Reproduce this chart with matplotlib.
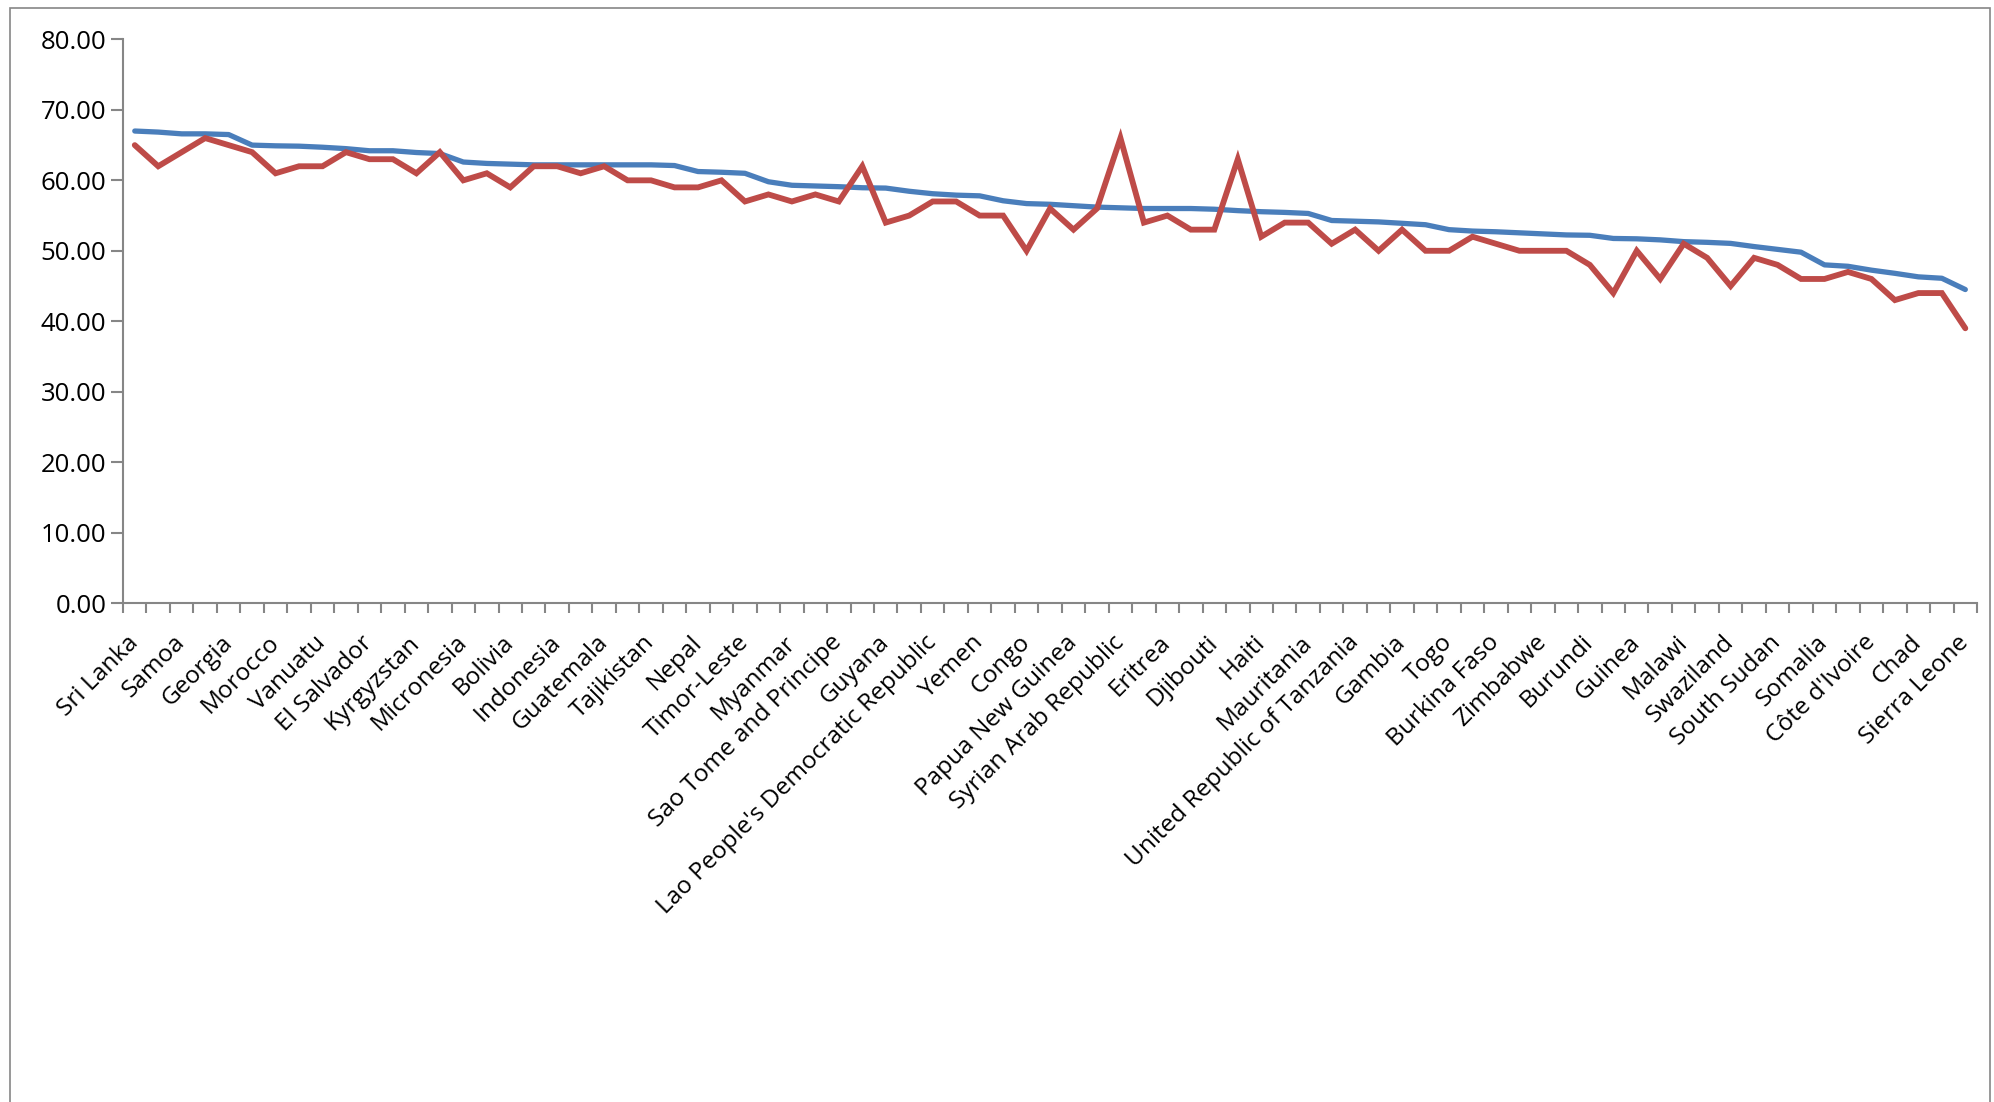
import matplotlib
matplotlib.use("Agg")
import matplotlib.pyplot as plt
import matplotlib.ticker as mticker
from matplotlib.patches import Rectangle

# label kategori (tiap dua titik)
labels = ["Sri Lanka", "Samoa", "Georgia", "Morocco", "Vanuatu", "El Salvador",
          "Kyrgyzstan", "Micronesia", "Bolivia", "Indonesia", "Guatemala",
          "Tajikistan", "Nepal", "Timor-Leste", "Myanmar", "Sao Tome and Principe",
          "Guyana", "Lao People's Democratic Republic", "Yemen", "Congo",
          "Papua New Guinea", "Syrian Arab Republic", "Eritrea", "Djibouti",
          "Haiti", "Mauritania", "United Republic of Tanzania", "Gambia", "Togo",
          "Burkina Faso", "Zimbabwe", "Burundi", "Guinea", "Malawi", "Swaziland",
          "South Sudan", "Somalia", "Côte d'Ivoire", "Chad", "Sierra Leone"]

# seri biru
blue = [67.0, 66.85, 66.6, 66.6, 66.5, 65.0, 64.9, 64.85, 64.7, 64.5,
        64.2, 64.2, 63.95, 63.8, 62.6, 62.4, 62.3, 62.2, 62.2, 62.2,
        62.2, 62.2, 62.2, 62.1, 61.25, 61.15, 61.0, 59.8, 59.3, 59.2,
        59.1, 58.95, 58.9, 58.45, 58.1, 57.9, 57.8, 57.1, 56.7, 56.6,
        56.4, 56.2, 56.1, 56.0, 56.0, 56.0, 55.9, 55.7, 55.55, 55.45,
        55.3, 54.3, 54.2, 54.1, 53.9, 53.7, 53.0, 52.8, 52.7, 52.55,
        52.4, 52.25, 52.2, 51.75, 51.7, 51.55, 51.3, 51.2, 51.05, 50.6,
        50.2, 49.8, 48.0, 47.8, 47.25, 46.8, 46.3, 46.1, 44.5]

# seri merah
red = [65, 62, 64, 66, 65, 64, 61, 62, 62, 64,
       63, 63, 61, 64, 60, 61, 59, 62, 62, 61,
       62, 60, 60, 59, 59, 60, 57, 58, 57, 58,
       57, 62, 54, 55, 57, 57, 55, 55, 50, 56,
       53, 56, 66, 54, 55, 53, 53, 63, 52, 54,
       54, 51, 53, 50, 53, 50, 50, 52, 51, 50,
       50, 50, 48, 44, 50, 46, 51, 49, 45, 49,
       48, 46, 46, 47, 46, 43, 44, 44, 39]

n = len(blue)
x = list(range(n))

fig = plt.figure(figsize=(19.94, 11.02), dpi=100)
ax = fig.add_axes([0.0617, 0.4528, 0.9298, 0.5114])

ax.plot(x, blue, color="#4A7EBB", linewidth=3.8, solid_joinstyle="round", solid_capstyle="round")
ax.plot(x, red, color="#BE4B48", linewidth=4.2, solid_joinstyle="miter", solid_capstyle="round")

ax.set_xlim(-0.5, n - 0.5)
ax.set_ylim(0, 80)
ax.yaxis.set_major_locator(mticker.MultipleLocator(10))
ax.yaxis.set_major_formatter(mticker.StrMethodFormatter('{x:.2f}'))

# tick di batas kategori, label di tengah kategori
ax.set_xticks([i - 0.5 for i in range(n + 1)])
ax.set_xticklabels([])
ax.set_xticks(list(range(0, n, 2)), minor=True)
ax.set_xticklabels(labels, minor=True, rotation=45, ha="right", va="center",
                   rotation_mode="anchor", fontsize=17.6, family="Open Sans")
ax.tick_params(axis="x", which="minor", length=0, pad=26)
ax.tick_params(axis="x", which="major", length=7, width=1.5, color="#868686", direction="out")
ax.tick_params(axis="y", length=9, width=1.5, color="#868686", labelsize=18.5, pad=3)
for t in ax.get_yticklabels():
    t.set_family("Open Sans")

for s in ["top", "right"]:
    ax.spines[s].set_visible(False)
for s in ["left", "bottom"]:
    ax.spines[s].set_color("#868686")
    ax.spines[s].set_linewidth(1.5)

# bingkai area chart
fig.patches.append(Rectangle((10 / 1994, -0.01), 1980 / 1994, 1.01 - 8 / 1102,
                             transform=fig.transFigure, fill=False,
                             edgecolor="#868686", linewidth=1.2))

plt.savefig("out.png", dpi=100)
